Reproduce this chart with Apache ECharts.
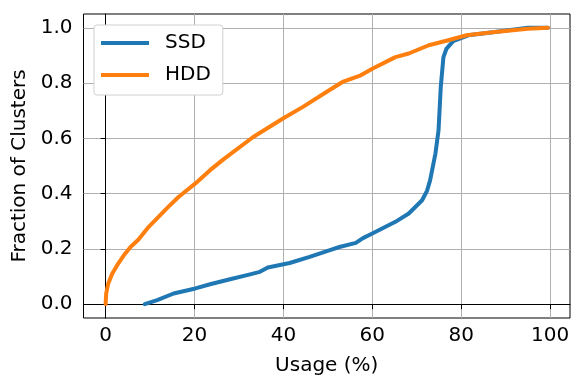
<!DOCTYPE html>
<html>
<head>
<meta charset="utf-8">
<script src="https://cdn.jsdelivr.net/npm/echarts@6/dist/echarts.min.js"></script>
<style>
  html, body { margin: 0; padding: 0; background: #fff; }
  #main { width: 575px; height: 375px; }
</style>
</head>
<body>
<div id="main"></div>
<script>
// CDF of cluster usage
var ssdUsage = [8.8, 11.6, 15.3, 20.2, 23.5, 28, 32.5, 34.7, 36.5, 41.4, 45.9, 50.3, 52.6, 56.3, 57.8, 60,
  65.2, 68.2, 71.2, 72.3, 73.0, 74.2, 74.9, 75.4, 76.0, 76.7, 78.2, 80.1, 81.6, 87.6, 95, 99.5];
var ssdFrac = [0, 0.0145, 0.0387, 0.057, 0.072, 0.09, 0.108, 0.117, 0.133, 0.149, 0.171, 0.195, 0.207, 0.222, 0.238, 0.256,
  0.298, 0.328, 0.376, 0.41, 0.448, 0.545, 0.629, 0.786, 0.894, 0.925, 0.952, 0.964, 0.973, 0.985, 1.0, 1.0];

var hddUsage = [0, 0.13, 0.6, 1.5, 2.6, 4.1, 5.6, 7.4, 9.7, 11.9, 14.1, 16.4, 20.2, 23.5, 26.5, 33.2, 39.9, 44.4, 50.3,
  53.3, 57.4, 60, 65.2, 68.2, 72.7, 77.1, 81.2, 87.6, 95, 99.5];
var hddFrac = [0, 0.039, 0.075, 0.111, 0.141, 0.177, 0.207, 0.234, 0.28, 0.316, 0.352, 0.388, 0.437, 0.485, 0.524, 0.605, 0.672, 0.714, 0.774,
  0.804, 0.828, 0.852, 0.894, 0.907, 0.937, 0.955, 0.973, 0.985, 0.997, 1.0];

var xTicks = [0, 20, 40, 60, 80, 100];
var yTicks = [0, 0.2, 0.4, 0.6, 0.8, 1.0];

function pairs(xs, ys) {
  return xs.map(function (x, i) { return [x, ys[i]]; });
}

var chart = echarts.init(document.getElementById('main'));
var font = 'DejaVu Sans';

var option = {
  animation: false,
  backgroundColor: '#fff',
  textStyle: { fontFamily: font },
  grid: {
    left: 83.5, right: 5, top: 14, bottom: 57,
    outerBoundsMode: 'none',
    show: true, borderColor: '#000', borderWidth: 1
  },
  legend: {
    left: 94, top: 25,
    orient: 'vertical',
    icon: 'rect',
    itemWidth: 48, itemHeight: 4,
    itemGap: 10,
    padding: [7, 12, 9, 7],
    backgroundColor: '#fff',
    borderColor: '#d0d0d0',
    borderWidth: 1,
    borderRadius: 3,
    textStyle: { fontFamily: font, fontSize: 20, color: '#000', lineHeight: 22, padding: [0, 0, 0, 11] },
    data: ['SSD', 'HDD']
  },
  xAxis: {
    type: 'value',
    min: -4.975, max: 104.475,
    name: 'Usage (%)',
    nameLocation: 'middle',
    nameGap: 38,
    nameTextStyle: { fontFamily: font, fontSize: 20, color: '#000' },
    axisLine: { show: true, lineStyle: { color: '#000', width: 1 } },
    axisTick: { show: true, length: 5, customValues: xTicks, lineStyle: { color: '#000' } },
    axisLabel: { customValues: xTicks, margin: 8, fontFamily: font, fontSize: 20, color: '#000' },
    splitLine: { show: true, lineStyle: { color: '#b0b0b0', width: 1 } }
  },
  yAxis: {
    type: 'value',
    min: -0.05, max: 1.05,
    name: 'Fraction of Clusters',
    nameLocation: 'middle',
    nameGap: 51,
    nameTextStyle: { fontFamily: font, fontSize: 20, color: '#000' },
    axisLine: { show: true, lineStyle: { color: '#000', width: 1 } },
    axisTick: { show: true, length: 5, customValues: yTicks, lineStyle: { color: '#000' } },
    axisLabel: {
      customValues: yTicks, margin: 11, fontFamily: font, fontSize: 20, color: '#000',
      formatter: function (v) { return v.toFixed(1); }
    },
    splitLine: { show: true, lineStyle: { color: '#b0b0b0', width: 1 } }
  },
  series: [
    {
      name: 'SSD', type: 'line', data: pairs(ssdUsage, ssdFrac),
      showSymbol: false, symbol: 'none',
      color: '#1f77b4',
      lineStyle: { width: 4, color: '#1f77b4', join: 'round', cap: 'round' }
    },
    {
      name: 'HDD', type: 'line', data: pairs(hddUsage, hddFrac),
      showSymbol: false, symbol: 'none',
      color: '#ff7f0e',
      lineStyle: { width: 4, color: '#ff7f0e', join: 'round', cap: 'round' }
    }
  ]
};

chart.setOption(option);
</script>
</body>
</html>
